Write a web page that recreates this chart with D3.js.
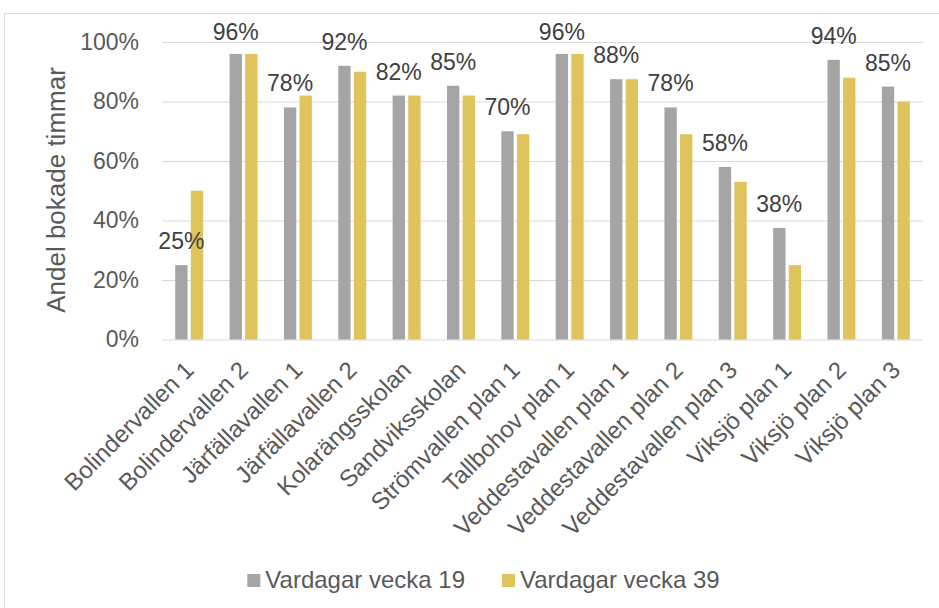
<!DOCTYPE html>
<html>
<head>
<meta charset="utf-8">
<title></title>
<script src="https://d3js.org/d3.v7.min.js"></script>
<style>
body { margin: 0; background: #fff; }
svg { display: block; font-family: "Liberation Sans", Arial, sans-serif; }
</style>
</head>
<body>
<div id="chart"></div>
<script>
const categories = ['Bolindervallen 1', 'Bolindervallen 2', 'Järfällavallen 1', 'Järfällavallen 2',
    'Kolarängsskolan', 'Sandviksskolan', 'Strömvallen plan 1', 'Tallbohov plan 1',
    'Veddestavallen plan 1', 'Veddestavallen plan 2', 'Veddestavallen plan 3',
    'Viksjö plan 1', 'Viksjö plan 2', 'Viksjö plan 3'];
const seriesNames = ['Vardagar vecka 19', 'Vardagar vecka 39'];
const week19 = [25, 96, 78, 92, 82, 85.3, 70, 96, 87.5, 78, 58, 37.5, 94, 85];
const week39 = [50, 96, 82, 90, 82, 82, 69, 96, 87.5, 69, 53, 25, 88, 80];
const yTicks = [0, 20, 40, 60, 80, 100];
const colors = ['#a5a5a5', '#dec45a'];

const width = 939, height = 608;
const plot = { left: 162, right: 923, top: 42, bottom: 339.5 };

const svg = d3.select('#chart').append('svg')
    .attr('width', width)
    .attr('height', height);

// chart frame (runs off the page on the right and bottom)
svg.append('rect')
    .attr('x', 4.5).attr('y', 13.5)
    .attr('width', 980).attr('height', 640)
    .attr('fill', 'none')
    .attr('stroke', '#d9d9d9');

const x0 = d3.scaleBand().domain(categories).range([plot.left, plot.right]);
const x1 = d3.scaleBand().domain(seriesNames)
    .range([x0.bandwidth() * 0.243, x0.bandwidth() * 0.757])
    .paddingInner(0.21);
const y = d3.scaleLinear().domain([0, 100]).range([plot.bottom, plot.top]);

// gridlines + y labels
const yAxis = svg.append('g')
    .attr('transform', `translate(${plot.left},0)`)
    .call(d3.axisLeft(y).tickValues(yTicks).tickSize(-(plot.right - plot.left)).tickPadding(23).tickFormat(d => d + '%'));
yAxis.select('.domain').remove();
yAxis.selectAll('line').attr('stroke', '#d9d9d9').attr('stroke-width', 1.2);
yAxis.selectAll('text')
    .attr('fill', '#595959')
    .attr('font-size', '23px')
    .attr('font-family', '"Liberation Sans", Arial, sans-serif');

// bars
const data = categories.map((c, i) => ({ cat: c, vals: [week19[i], week39[i]] }));
const groups = svg.append('g').selectAll('g')
    .data(data)
    .join('g')
    .attr('transform', d => `translate(${x0(d.cat)},0)`);

groups.selectAll('rect')
    .data(d => d.vals.map((v, j) => ({ key: seriesNames[j], v: v, j: j })))
    .join('rect')
    .attr('x', d => x1(d.key))
    .attr('width', x1.bandwidth())
    .attr('y', d => y(d.v))
    .attr('height', d => y(0) - y(d.v))
    .attr('fill', d => colors[d.j]);

// data labels for first series
groups.append('text')
    .attr('x', x1(seriesNames[0]) + x1.bandwidth() / 2)
    .attr('y', d => Math.max(y(d.vals[0]) - 16, 40))
    .attr('text-anchor', 'middle')
    .attr('font-size', '23px')
    .attr('fill', '#404040')
    .text(d => Math.round(d.vals[0]) + '%');

// category labels
svg.append('g').selectAll('text')
    .data(categories)
    .join('text')
    .attr('transform', d => `translate(${x0(d) + x0.bandwidth() / 2},${plot.bottom + 26}) rotate(-45)`)
    .attr('text-anchor', 'end')
    .attr('dy', '0.35em')
    .attr('font-size', '24px')
    .attr('fill', '#595959')
    .text(d => d);

// y axis title
svg.append('text')
    .attr('transform', `translate(65,190) rotate(-90)`)
    .attr('text-anchor', 'middle')
    .attr('font-size', '26px')
    .attr('fill', '#595959')
    .text('Andel bokade timmar');

// legend
const legend = svg.append('g');
let lx = 0;
seriesNames.forEach((name, i) => {
    const item = legend.append('g').attr('transform', `translate(${lx},0)`);
    item.append('rect')
        .attr('x', 0).attr('y', -14)
        .attr('width', 13).attr('height', 13)
        .attr('fill', colors[i]);
    const t = item.append('text')
        .attr('x', 18)
        .attr('font-size', '24px')
        .attr('fill', '#595959')
        .text(name);
    lx += 18 + t.node().getComputedTextLength() + 37;
});
const legendW = lx - 37;
legend.attr('transform', `translate(${483.5 - legendW / 2},588)`);
</script>
</body>
</html>
